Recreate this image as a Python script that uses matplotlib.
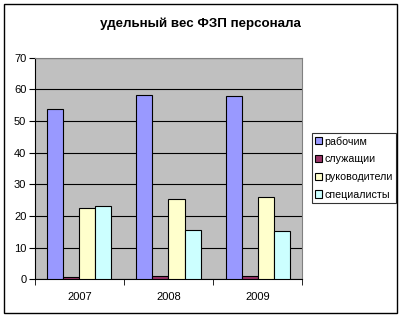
import numpy as np
import matplotlib.pyplot as plt
from matplotlib.patches import Rectangle

plt.rcParams['font.family'] = ['Liberation Sans', 'DejaVu Sans']

years = ['2007', '2008', '2009']
series = ['рабочим', 'служащии', 'руководители', 'специалисты']
rabochim = [53.7, 58.1, 57.8]
sluzhashchii = [0.7, 1.0, 1.0]
rukovoditeli = [22.4, 25.3, 25.9]
spetsialisty = [23.0, 15.6, 15.3]
colors = ['#9999FF', '#993366', '#FFFFCC', '#CCFFFF']

fig = plt.figure(figsize=(4.03, 3.18), dpi=100)
fig.patches.append(Rectangle((4 / 403, 1 - 313 / 318), 393 / 403, 309 / 318,
                             transform=fig.transFigure, fill=False,
                             edgecolor='black', linewidth=1))
ax = fig.add_axes([0.086, 0.1217, 0.664, 0.697])
ax.set_facecolor('#C0C0C0')

x = np.arange(len(years))
w = 0.18
for i, (vals, name) in enumerate(zip([rabochim, sluzhashchii, rukovoditeli, spetsialisty], series)):
    ax.bar(x + (i - 1.5) * w, vals, w, color=colors[i], edgecolor='black',
           linewidth=0.8, label=name, zorder=3)

ax.set_ylim(0, 70)
ax.set_xlim(-0.5, 2.5)
ax.set_yticks(range(0, 71, 10))
ax.yaxis.grid(True, color='black', linewidth=0.8, zorder=1)
ax.set_xticks(x)
ax.set_xticklabels(years, fontsize=8)
ax.tick_params(axis='x', length=0, pad=9)
ax.set_xticks([-0.5, 0.5, 1.5, 2.5], minor=True)
ax.tick_params(axis='x', which='minor', length=4, direction='out')
ax.tick_params(axis='y', length=4, labelsize=8, pad=2)
for s in ['top', 'right']:
    ax.spines[s].set_color('#808080')
ax.spines['left'].set_color('black')
ax.spines['bottom'].set_color('black')

fig.text(0.497, 0.925, 'удельный вес ФЗП персонала', ha='center', va='center',
         fontsize=9.6, fontweight='bold')

leg = fig.legend(loc='center left', bbox_to_anchor=(312 / 403, 1 - 168 / 318),
                 fontsize=7.7, frameon=True, fancybox=False, edgecolor='black',
                 handlelength=0.65, handleheight=0.65, handletextpad=0.2,
                 labelspacing=0.72, borderpad=0.3, borderaxespad=0)
leg.get_frame().set_linewidth(0.8)

fig.savefig('out.png', dpi=100)
